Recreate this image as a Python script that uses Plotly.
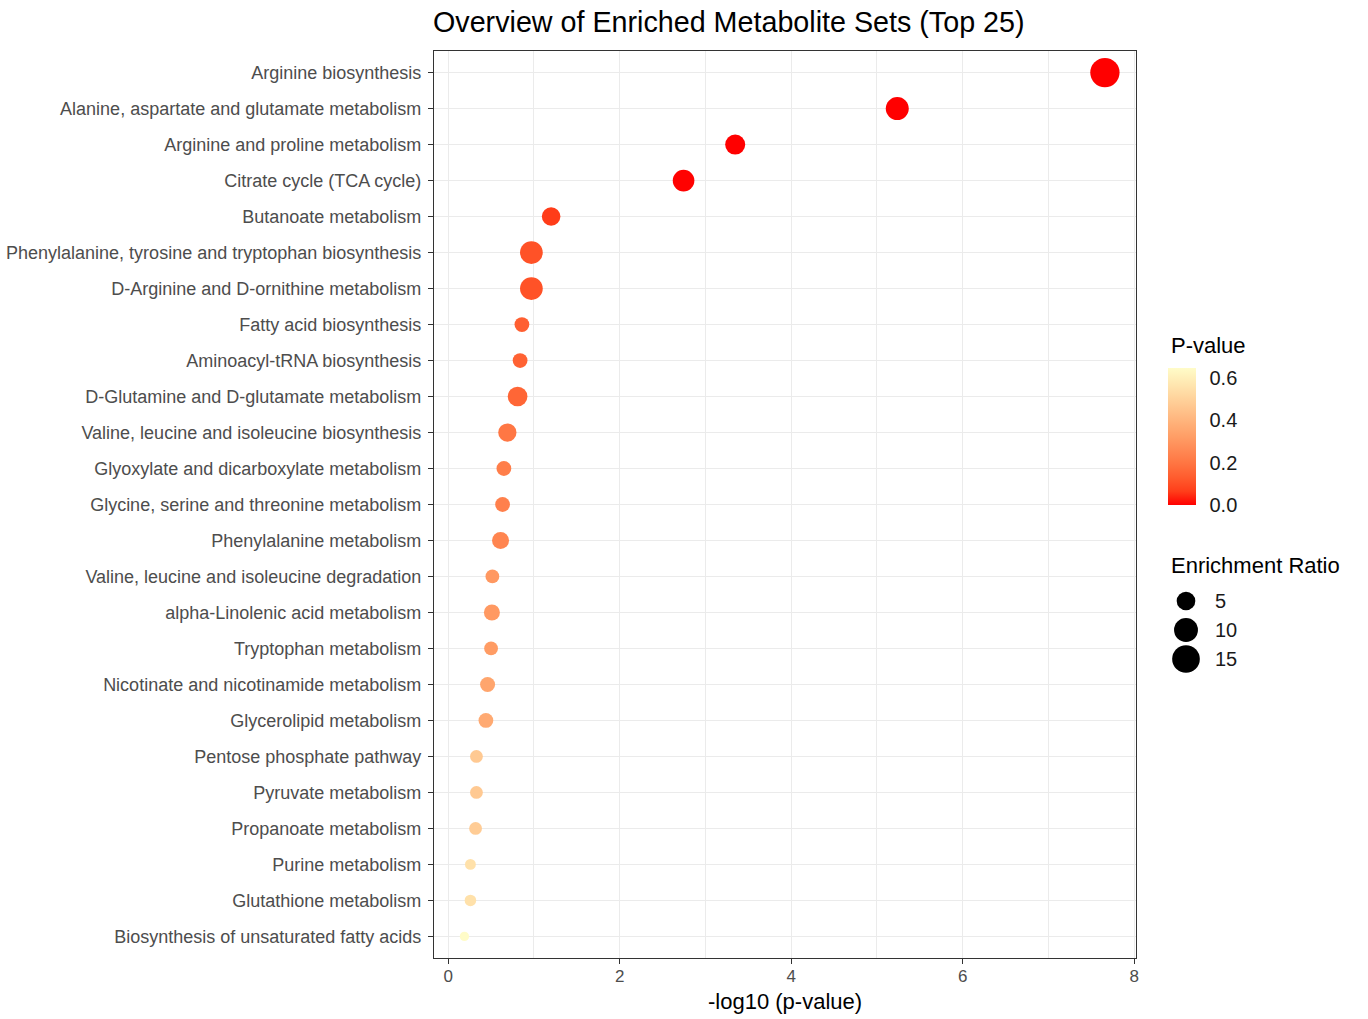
import numpy as np
import plotly.graph_objects as go

# ---------------- data ----------------
pathways = [
    "Arginine biosynthesis",
    "Alanine, aspartate and glutamate metabolism",
    "Arginine and proline metabolism",
    "Citrate cycle (TCA cycle)",
    "Butanoate metabolism",
    "Phenylalanine, tyrosine and tryptophan biosynthesis",
    "D-Arginine and D-ornithine metabolism",
    "Fatty acid biosynthesis",
    "Aminoacyl-tRNA biosynthesis",
    "D-Glutamine and D-glutamate metabolism",
    "Valine, leucine and isoleucine biosynthesis",
    "Glyoxylate and dicarboxylate metabolism",
    "Glycine, serine and threonine metabolism",
    "Phenylalanine metabolism",
    "Valine, leucine and isoleucine degradation",
    "alpha-Linolenic acid metabolism",
    "Tryptophan metabolism",
    "Nicotinate and nicotinamide metabolism",
    "Glycerolipid metabolism",
    "Pentose phosphate pathway",
    "Pyruvate metabolism",
    "Propanoate metabolism",
    "Purine metabolism",
    "Glutathione metabolism",
    "Biosynthesis of unsaturated fatty acids",
]
p_values = [2.2e-8, 5.8e-6, 4.5e-4, 1.8e-3, 0.063, 0.107, 0.107, 0.138, 0.145,
            0.155, 0.204, 0.224, 0.232, 0.245, 0.305, 0.309, 0.316, 0.347,
            0.363, 0.468, 0.468, 0.479, 0.550, 0.550, 0.646]
enrichment_ratio = [17.5, 9.0, 6.1, 7.6, 4.9, 8.7, 8.7, 2.7, 2.7, 5.8, 4.7, 2.7,
                    2.7, 3.9, 2.3, 3.3, 2.3, 2.8, 2.7, 2.0, 2.0, 2.0, 1.6, 1.7, 1.5]
size_legend_values = [5, 10, 15]
colorbar_ticks = [0.0, 0.2, 0.4, 0.6]
x_ticks = [0, 2, 4, 6, 8]

neg_log_p = [-np.log10(p) for p in p_values]

# ---------------- styling helpers ----------------
W, H = 1368, 1019
ML, MR, MT, MB = 434, 10, 51, 61
PW = W - ML - MR            # plot-area width (px)
PH = H - MT - MB            # plot-area height (px)
PANEL_W = 702               # panel width in px


def px_x(px):
    return (px - ML) / PW


def px_y(px):
    return (H - MB - px) / PH


D_MIN, D_MAX = 9.3, 29.3
ER_MIN, ER_MAX = min(enrichment_ratio), max(enrichment_ratio)


def size_of(er):
    r = max(0.0, (er - ER_MIN) / (ER_MAX - ER_MIN))
    return D_MIN + (D_MAX - D_MIN) * np.sqrt(r)


# Lab interpolation red -> pale yellow (like ggplot scale_colour_gradient)
def _srgb2lin(c):
    c = c / 255.0
    return np.where(c <= 0.04045, c / 12.92, ((c + 0.055) / 1.055) ** 2.4)


def _lin2srgb(c):
    c = np.clip(c, 0, 1)
    return np.where(c <= 0.0031308, 12.92 * c, 1.055 * c ** (1 / 2.4) - 0.055) * 255


M = np.array([[0.4124, 0.3576, 0.1805], [0.2126, 0.7152, 0.0722], [0.0193, 0.1192, 0.9505]])
WP = np.array([0.95047, 1.0, 1.08883])


def rgb2lab(rgb):
    xyz = M @ _srgb2lin(np.array(rgb, float)) / WP
    f = np.where(xyz > 0.008856, np.cbrt(xyz), 7.787 * xyz + 16 / 116)
    return np.array([116 * f[1] - 16, 500 * (f[0] - f[1]), 200 * (f[1] - f[2])])


def lab2rgb(lab):
    fy = (lab[0] + 16) / 116
    fx = fy + lab[1] / 500
    fz = fy - lab[2] / 200
    f = np.array([fx, fy, fz])
    xyz = np.where(f ** 3 > 0.008856, f ** 3, (f - 16 / 116) / 7.787) * WP
    return _lin2srgb(np.linalg.solve(M, xyz))


low_lab = rgb2lab([255, 0, 0])
high_lab = rgb2lab([255, 252, 200])
colorscale = []
for t in np.linspace(0, 1, 11):
    c = lab2rgb(low_lab + (high_lab - low_lab) * t)
    colorscale.append([float(t), "rgb(%d,%d,%d)" % tuple(int(round(v)) for v in c)])

FONT = "Liberation Sans, Arial, Helvetica, sans-serif"
GRID = "#EBEBEB"
DARK = "#333333"

fig = go.Figure()

fig.add_trace(go.Scatter(
    x=neg_log_p, y=pathways, mode="markers",
    marker=dict(
        size=[size_of(e) for e in enrichment_ratio],
        color=p_values, colorscale=colorscale,
        cmin=min(p_values), cmax=max(p_values),
        line=dict(width=0), opacity=1,
        colorbar=dict(
            x=px_x(1168), xanchor="left", xref="paper",
            y=px_y(436.5), yanchor="middle",
            len=137 / PH, lenmode="fraction",
            thickness=28, thicknessmode="pixels",
            outlinewidth=0, xpad=0, ypad=0,
            tickvals=colorbar_ticks, ticktext=["%.1f" % v for v in colorbar_ticks],
            ticks="outside", ticklen=10, tickcolor="rgba(255,255,255,0)",
            tickfont=dict(size=20, color="#1A1A1A", family=FONT),
        ),
    ),
    showlegend=False, hoverinfo="x+y",
))

# size legend (drawn on its own small axes)
fig.add_trace(go.Scatter(
    x=[16] * len(size_legend_values), y=list(range(len(size_legend_values))),
    mode="markers", xaxis="x2", yaxis="y2",
    marker=dict(size=[size_of(v) for v in size_legend_values], color="#000000",
                opacity=1, line=dict(width=0)),
    showlegend=False, hoverinfo="skip",
))

annotations = []
for i, v in enumerate(size_legend_values):
    annotations.append(dict(x=43, y=i, xref="x2", yref="y2", text=str(v),
                            showarrow=False, xanchor="left", yanchor="middle",
                            font=dict(size=20, color="#1A1A1A", family=FONT)))
annotations.append(dict(x=px_x(1169), y=px_y(565), xref="paper", yref="paper",
                        text="Enrichment Ratio", showarrow=False,
                        xanchor="left", yanchor="middle",
                        font=dict(size=22, color="#000000", family=FONT)))
annotations.append(dict(x=px_x(1169), y=px_y(345), xref="paper", yref="paper",
                        text="P-value", showarrow=False,
                        xanchor="left", yanchor="middle",
                        font=dict(size=22, color="#000000", family=FONT)))
annotations.append(dict(x=px_x(ML + PANEL_W / 2), y=px_y(1002), xref="paper", yref="paper",
                        text="-log10 (p-value)", showarrow=False,
                        xanchor="center", yanchor="middle",
                        font=dict(size=22, color="#000000", family=FONT)))

fig.update_layout(
    width=W, height=H,
    margin=dict(l=ML, r=MR, t=MT, b=MB, pad=0, autoexpand=False),
    paper_bgcolor="white", plot_bgcolor="white",
    font=dict(family=FONT),
    title=dict(text="Overview of Enriched Metabolite Sets (Top 25)",
               x=433 / W, xref="container", xanchor="left",
               y=1 - 22 / H, yref="container", yanchor="middle",
               pad=dict(l=0, r=0, t=0, b=0),
               font=dict(size=28.7, color="#000000", family=FONT)),
    xaxis=dict(
        domain=[0, PANEL_W / PW], range=[-0.165, 8.02], automargin=False,
        tickvals=x_ticks, ticktext=[str(v) for v in x_ticks],
        showgrid=True, gridcolor=GRID, gridwidth=1.3,
        minor=dict(dtick=1, tick0=0, showgrid=True, gridcolor=GRID, gridwidth=0.7, ticks=""),
        zeroline=False,
        showline=True, mirror=True, linecolor=DARK, linewidth=1.2,
        ticks="outside", ticklen=5, tickcolor=DARK, tickwidth=1.2,
        ticklabelstandoff=-3,
        tickfont=dict(size=17, color="#4D4D4D", family=FONT),
    ),
    yaxis=dict(
        categoryorder="array", categoryarray=pathways[::-1],
        range=[-0.6, len(pathways) - 0.4], automargin=False,
        showgrid=True, gridcolor=GRID, gridwidth=1.3, zeroline=False,
        showline=True, mirror=True, linecolor=DARK, linewidth=1.2,
        ticks="outside", ticklen=5, tickcolor=DARK, tickwidth=1.2,
        ticklabelstandoff=3,
        tickfont=dict(size=18, color="#4D4D4D", family=FONT),
    ),
    xaxis2=dict(domain=[px_x(1170), 1.0], range=[0, (1.0 - px_x(1170)) * PW],
                visible=False, fixedrange=True, anchor="y2"),
    yaxis2=dict(domain=[px_y(673.5), px_y(586.5)], range=[2.5, -0.5],
                visible=False, fixedrange=True, anchor="x2"),
    annotations=annotations,
)

fig.write_html("out.html", config={"displayModeBar": False},
               post_script="document.body.style.margin='0';")
